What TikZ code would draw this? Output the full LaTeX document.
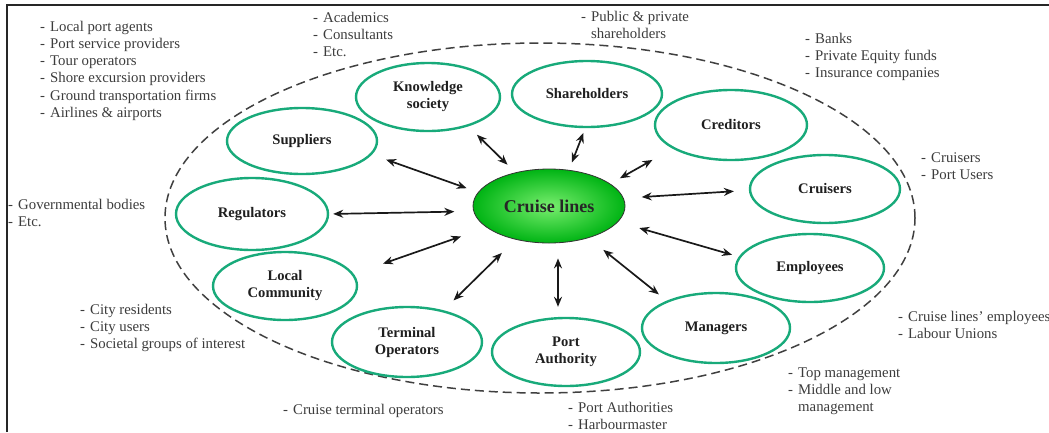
\documentclass[tikz,border=0pt]{standalone}
\usepackage{fontspec}
\setmainfont{Liberation Serif}
\usetikzlibrary{shapes.geometric,arrows.meta}
\definecolor{ering}{RGB}{24,170,122}
\definecolor{notegray}{RGB}{60,60,60}
\definecolor{clin}{RGB}{120,238,110}
\definecolor{clout}{RGB}{0,180,20}
\newcommand{\li}[1]{\makebox[10pt][l]{-}#1}
\newcommand{\lc}[1]{\hspace*{10pt}#1}
\begin{document}
\begin{tikzpicture}[x=1pt,y=-1pt,
  stake/.style={ellipse,draw=ering,line width=2.4pt,fill=white,inner sep=0pt,
    minimum width=150pt,minimum height=68pt,align=center,
    font=\fontsize{14.6}{17}\selectfont\bfseries,text=black!88},
  link/.style={{Stealth[length=10pt,width=8pt]}-{Stealth[length=10pt,width=8pt]},line width=1.7pt,black!90},
  note/.style={anchor=north west,align=left,inner sep=0pt,
    font=\fontsize{14.8}{17.2}\selectfont,text=notegray}]
\useasboundingbox (0,0) rectangle (1049,432);
\draw[line width=2.4pt,black!85] (7,432) -- (7,5) -- (1049,5);
% outer dashed boundary
\draw[dashed,dash pattern=on 9pt off 5pt,line width=1.5pt,black!75] (540,218) ellipse [x radius=375pt,y radius=175pt];
% central node
\node[ellipse,draw=black!80,line width=0.8pt,inner color=clin,outer color=clout,
  minimum width=152pt,minimum height=74pt,inner sep=0pt,
  font=\fontsize{18}{21}\selectfont\bfseries,text=black!85] (cl) at (549,206) {Cruise lines};
% stakeholders
\node[stake,minimum width=150pt,minimum height=66pt] (sup) at (302,141) {Suppliers};
\node[stake,minimum width=144pt,minimum height=68pt] (kno) at (428,97) {Knowledge\\society};
\node[stake,minimum width=150pt,minimum height=66pt] (sha) at (587,94) {Shareholders};
\node[stake,minimum width=152pt,minimum height=70pt] (cre) at (731,125) {Creditors};
\node[stake,minimum width=150pt,minimum height=68pt] (cru) at (825,189) {Cruisers};
\node[stake,minimum width=148pt,minimum height=68pt] (emp) at (810,268) {Employees};
\node[stake,minimum width=148pt,minimum height=70pt] (man) at (716,328) {Managers};
\node[stake,minimum width=148pt,minimum height=68pt] (pa) at (566,352) {Port\\Authority};
\node[stake,minimum width=150pt,minimum height=70pt] (ter) at (407,342) {Terminal\\Operators};
\node[stake,minimum width=144pt,minimum height=68pt] (loc) at (285,286) {Local\\Community};
\node[stake,minimum width=152pt,minimum height=72pt] (reg) at (252,214) {Regulators};
% connectors
\draw[link,shorten <=15pt,shorten >=12pt] (sup.-11.6) -- (cl.169);
\draw[link,shorten <=12pt,shorten >=11pt] (kno.-36.3) -- (cl.135);
\draw[link,shorten <=5pt,shorten >=8pt] (sha.-93) -- (cl.61.9);
\draw[link,shorten <=23pt,shorten >=11pt] (cre.202.3) -- (cl.20.1);
\draw[link,shorten <=15pt,shorten >=18pt] (cru.181.9) -- (cl.6.2);
\draw[link,shorten <=7pt,shorten >=22pt] (emp.171.1) -- (cl.-13.9);
\draw[link,shorten <=10pt,shorten >=19pt] (man.151.9) -- (cl.-39.7);
\draw[link,shorten <=10pt,shorten >=15pt] ([xshift=-8pt]pa.north) -- ([xshift=9pt]cl.south);
\draw[link,shorten <=14pt,shorten >=19pt] (ter.41) -- (cl.225.6);
\draw[link,shorten <=31pt,shorten >=27pt] (loc.10.4) -- (cl.199.6);
\draw[link,shorten <=4pt,shorten >=19pt] (reg.0.7) -- (cl.184.3);
% notes
\node[note] (nsup) at (40,19) {\strut\li{Local port agents}\\\li{Port service providers}\\\li{Tour operators}\\\li{Shore excursion providers}\\\li{Ground transportation firms}\\\li{Airlines \& airports}};
\node[note] (nkno) at (313,10) {\strut\li{Academics}\\\li{Consultants}\\\li{Etc.}};
\node[note] (nsha) at (581,9) {\strut\li{Public \& private}\\\lc{shareholders}};
\node[note] (ncre) at (805,31) {\strut\li{Banks}\\\li{Private Equity funds}\\\li{Insurance companies}};
\node[note] (ncru) at (921,150) {\strut\li{Cruisers}\\\li{Port Users}};
\node[note] (nreg) at (8,197) {\strut\li{Governmental bodies}\\\li{Etc.}};
\node[note] (nloc) at (80,302) {\strut\li{City residents}\\\li{City users}\\\li{Societal groups of interest}};
\node[note] (nter) at (283,402) {\strut\li{Cruise terminal operators}};
\node[note] (npa) at (568,400) {\strut\li{Port Authorities}\\\li{Harbourmaster}};
\node[note] (nemp) at (898,309) {\strut\li{Cruise lines' employees}\\\li{Labour Unions}};
\node[note] (nman) at (788,365) {\strut\li{Top management}\\\li{Middle and low}\\\lc{management}};
\end{tikzpicture}
\end{document}
